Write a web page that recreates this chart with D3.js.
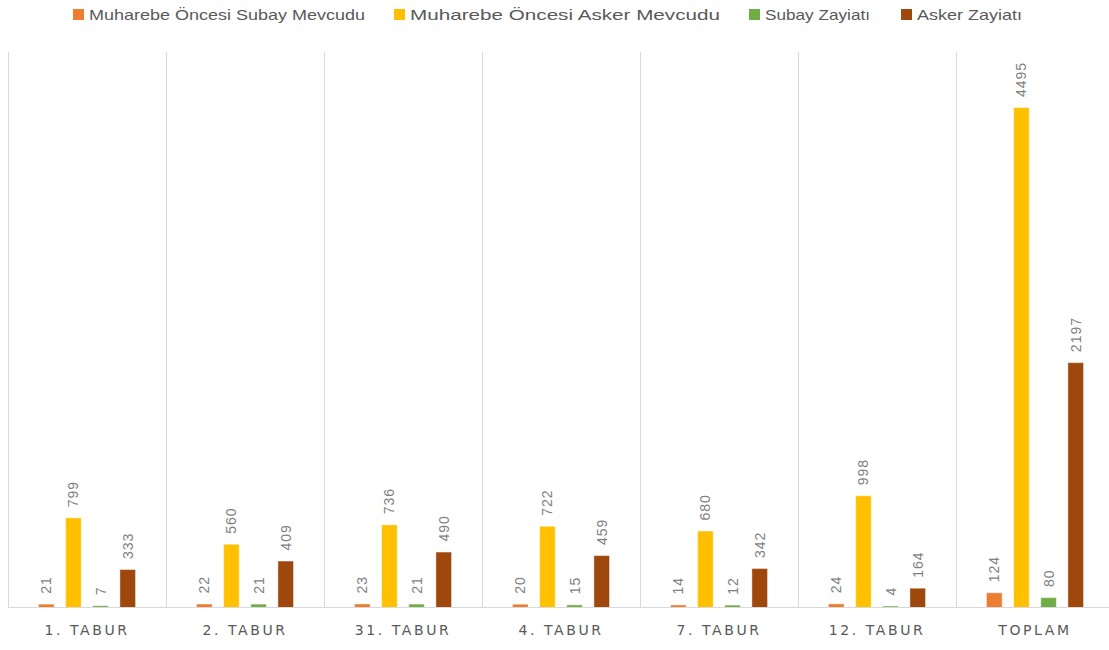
<!DOCTYPE html>
<html><head><meta charset="utf-8">
<script src="https://cdn.jsdelivr.net/npm/d3@7"></script>
<style>body{margin:0;background:#fff;} svg{display:block;}</style>
</head><body>
<svg id="chart" width="1109" height="650"></svg>
<script>
const categories = ["1. TABUR","2. TABUR","31. TABUR","4. TABUR","7. TABUR","12. TABUR","TOPLAM"];
const seriesNames = ["Muharebe Öncesi Subay Mevcudu","Muharebe Öncesi Asker Mevcudu","Subay Zayiatı","Asker Zayiatı"];
const subayMevcudu = [21,22,23,20,14,24,124];
const askerMevcudu = [799,560,736,722,680,998,4495];
const subayZayiati = [7,21,21,15,12,4,80];
const askerZayiati = [333,409,490,459,342,164,2197];
const colors = ["#ed7d31","#ffc000","#70ad47","#9e480e"];

const seriesValues = [subayMevcudu, askerMevcudu, subayZayiati, askerZayiati];
const svg = d3.select("#chart");
const plotLeft = 8, plotRight = 1114, plotTop = 52, plotBottom = 607;

const x0 = d3.scaleBand().domain(categories).range([plotLeft, plotRight]).padding(0);
const x1 = d3.scaleBand().domain(d3.range(4)).range([31, 127]).paddingInner(0.46).paddingOuter(0);
const y = d3.scaleLinear().domain([0,5000]).range([plotBottom, plotTop]);

// vertical gridlines at category boundaries
const g = svg.append("g");
categories.forEach(c => {
  g.append("line").attr("x1", x0(c)+0.5).attr("x2", x0(c)+0.5).attr("y1", plotTop).attr("y2", plotBottom)
    .attr("stroke", "#d9d9d9").attr("stroke-width", 1);
});

// bars
categories.forEach((c, ci) => {
  seriesValues.forEach((vals, si) => {
    const v = vals[ci];
    const bx = x0(c) + x1(si);
    svg.append("rect").attr("x", bx).attr("y", y(v)).attr("width", x1.bandwidth())
      .attr("height", plotBottom - y(v)).attr("fill", colors[si])
      .attr("stroke", colors[si]).attr("stroke-width", 1).attr("stroke-opacity", 0.6);
    svg.append("text")
      .attr("transform", `translate(${bx + x1.bandwidth()/2},${y(v) - 11}) rotate(-90)`)
      .attr("text-anchor", "start").attr("dominant-baseline", "central")
      .attr("font-family", "Liberation Sans, Arial, sans-serif").attr("font-size", 14)
      .attr("letter-spacing", 1)
      .attr("fill", "#7f7f7f").text(v);
  });
});

// baseline
g.raise();
svg.append("line").attr("x1", plotLeft).attr("x2", plotRight).attr("y1", plotBottom+0.5).attr("y2", plotBottom+0.5)
  .attr("stroke", "#d9d9d9").attr("stroke-width", 1);

// x axis labels
const xAxis = d3.axisBottom(x0).tickSize(0).tickPadding(0);
const ax = svg.append("g").attr("transform", `translate(0,${plotBottom})`).call(xAxis);
ax.select(".domain").remove();
ax.selectAll("text").attr("y", 24).attr("dy", "0.32em")
  .attr("font-family", "DejaVu Sans, sans-serif").attr("font-size", 14)
  .attr("letter-spacing", 2.6).attr("fill", "#595959");

// legend
const legendX = [73, 394, 749, 901];
const legendW = [276, 310, 105, 105];
seriesNames.forEach((n, i) => {
  const lg = svg.append("g").attr("transform", `translate(${legendX[i]},14)`);
  lg.append("rect").attr("x", 0).attr("y", -5).attr("width", 11).attr("height", 11).attr("fill", colors[i]);
  lg.append("text").attr("x", 16).attr("y", 0).attr("dominant-baseline", "central")
    .attr("font-family", "Liberation Sans, Arial, sans-serif").attr("font-size", 15)
    .attr("fill", "#595959").attr("textLength", legendW[i]).attr("lengthAdjust", "spacingAndGlyphs")
    .text(n);
});
</script>
</body></html>
